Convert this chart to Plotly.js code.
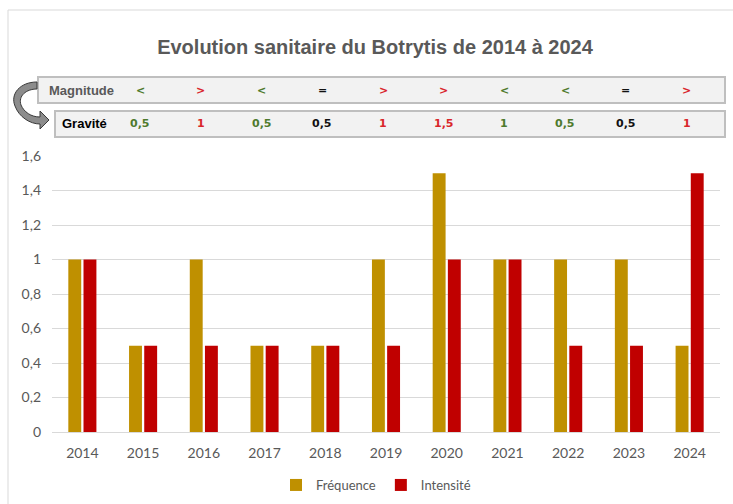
<!DOCTYPE html>
<html>
<head>
<meta charset="utf-8">
<script src="https://cdn.plot.ly/plotly-3.0.1.min.js"></script>
<style>html,body{margin:0;padding:0;background:#fff;}#chart{width:733px;height:504px;}</style>
</head>
<body>
<div id="chart"></div>
<script>
const years = ['2014','2015','2016','2017','2018','2019','2020','2021','2022','2023','2024'];
const frequence = [1, 0.5, 1, 0.5, 0.5, 1, 1.5, 1, 1, 1, 0.5];
const intensite = [1, 0.5, 0.5, 0.5, 0.5, 0.5, 1, 1, 0.5, 0.5, 1.5];
const magnitude = ['<', '>', '<', '=', '>', '>', '<', '<', '=', '>'];
const gravite = ['0,5', '1', '0,5', '0,5', '1', '1,5', '1', '0,5', '0,5', '1'];

const W = 733, H = 504, L = 52, R = 13, T = 156, B = 72;
const pw = W - L - R, ph = H - T - B;
const px = x => (x - L) / pw;
const py = y => (H - B - y) / ph;

const symColor = s => s === '<' ? '#4e7a2d' : (s === '>' ? '#d9262b' : '#111111');

const traces = [
  {type: 'bar', name: 'Fréquence', x: years, y: frequence, marker: {color: '#bf9000'}},
  {type: 'bar', name: 'Intensité', x: years, y: intensite, marker: {color: '#c00000'}}
];

const annotations = [];
annotations.push({xref: 'paper', yref: 'paper', x: px(81), y: py(90), text: '<b>Magnitude</b>', showarrow: false,
  font: {family: 'Liberation Sans, Arial', size: 13, color: '#595959'}, xanchor: 'center', yanchor: 'middle'});
annotations.push({xref: 'paper', yref: 'paper', x: px(84), y: py(124), text: '<b>Gravité</b>', showarrow: false,
  font: {family: 'Liberation Sans, Arial', size: 13, color: '#000000'}, xanchor: 'center', yanchor: 'middle'});
magnitude.forEach((s, i) => {
  // category index of the year this comparison belongs to (years[i + 1])
  const catIndex = years.indexOf(years[i + 1]);
  annotations.push({xref: 'x', yref: 'paper', x: catIndex, xshift: -3, y: py(90), text: '<b>' + s + '</b>', showarrow: false,
    font: {family: 'DejaVu Sans', size: 11, color: symColor(s)}, xanchor: 'center', yanchor: 'middle'});
  annotations.push({xref: 'x', yref: 'paper', x: catIndex, xshift: -3, y: py(124), text: '<b>' + gravite[i] + '</b>', showarrow: false,
    font: {family: 'DejaVu Sans', size: 11, color: symColor(s)}, xanchor: 'center', yanchor: 'middle'});
});

function P(x, y) { return px(x).toFixed(5) + ',' + py(y).toFixed(5); }
const arrowPath = 'M ' + P(37,82) + ' C ' + P(20,82) + ' ' + P(10,94) + ' ' + P(15,106) +
  ' C ' + P(19,117) + ' ' + P(30,124) + ' ' + P(40,124) + ' L ' + P(40,129) + ' L ' + P(49,120) +
  ' L ' + P(40,111) + ' L ' + P(40,117) + ' C ' + P(31,117) + ' ' + P(24,112) + ' ' + P(21,105) +
  ' C ' + P(18,96) + ' ' + P(26,89) + ' ' + P(37,89) + ' Z';

const shapes = [
  {type: 'line', xref: 'paper', yref: 'paper', x0: px(8), x1: px(8), y0: py(10), y1: py(520), line: {color: '#d9d9d9', width: 1}},
  {type: 'line', xref: 'paper', yref: 'paper', x0: px(8), x1: px(740), y0: py(10), y1: py(10), line: {color: '#d9d9d9', width: 1}},
  {type: 'rect', xref: 'paper', yref: 'paper', x0: px(38), x1: px(725), y0: py(77), y1: py(103), fillcolor: '#f2f2f2', line: {color: '#bfbfbf', width: 2}, layer: 'below'},
  {type: 'rect', xref: 'paper', yref: 'paper', x0: px(55), x1: px(725), y0: py(111), y1: py(137), fillcolor: '#f2f2f2', line: {color: '#bfbfbf', width: 2}, layer: 'below'},
  {type: 'path', xref: 'paper', yref: 'paper', path: arrowPath, fillcolor: '#8c8c8c', line: {color: '#3a3a3a', width: 1}}
];

const layout = {
  width: W, height: H, autosize: false,
  margin: {l: L, r: R, t: T, b: B, pad: 0, autoexpand: false},
  paper_bgcolor: '#ffffff', plot_bgcolor: '#ffffff',
  separators: ', ',
  title: {text: '<b>Evolution sanitaire du Botrytis de 2014 à 2024</b>', xref: 'container', yref: 'container',
    x: 375 / W, y: 1 - 47 / H, xanchor: 'center', yanchor: 'middle',
    font: {family: 'Liberation Sans, Arial', size: 20, color: '#595959'}},
  barmode: 'group', bargap: 0.5, bargroupgap: 0.15,
  xaxis: {type: 'category', range: [-0.5, years.length - 0.5], autorange: false, showgrid: false, showline: true,
    linecolor: '#d9d9d9', linewidth: 1, ticks: '',
    tickfont: {family: 'Lato', size: 14, color: '#595959'}, ticklabelstandoff: 8, fixedrange: true},
  yaxis: {range: [0, 1.6], dtick: 0.2, tick0: 0, showgrid: true, gridcolor: '#d9d9d9', gridwidth: 1, zeroline: false,
    showline: false, ticks: '', tickfont: {family: 'Lato', size: 14, color: '#595959'}, ticklabelstandoff: 10, fixedrange: true},
  showlegend: true,
  legend: {orientation: 'h', xref: 'paper', yref: 'paper', x: px(376), y: py(485), xanchor: 'center', yanchor: 'middle',
    font: {family: 'Lato', size: 13, color: '#595959'}, itemwidth: 30, bgcolor: 'rgba(0,0,0,0)'},
  annotations: annotations,
  shapes: shapes
};

Plotly.newPlot('chart', traces, layout, {displayModeBar: false, staticPlot: true});
</script>
</body>
</html>
